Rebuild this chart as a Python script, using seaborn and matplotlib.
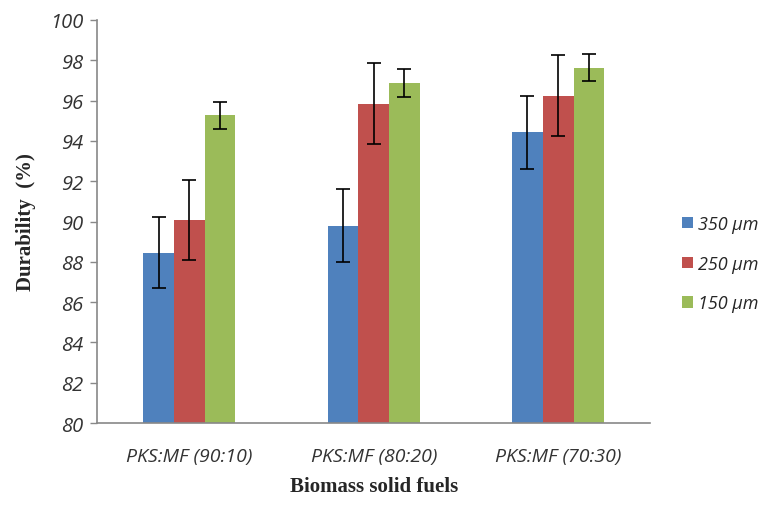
import matplotlib
matplotlib.use("Agg")
import matplotlib.pyplot as plt
import seaborn as sns
import pandas as pd
import numpy as np
from matplotlib.patches import Patch

categories = ["PKS:MF (90:10)", "PKS:MF (80:20)", "PKS:MF (70:30)"]
sizes = ["350 μm", "250 μm", "150 μm"]
vals_350 = [88.45, 89.8, 94.43]
vals_250 = [90.07, 95.85, 96.25]
vals_150 = [95.27, 96.88, 97.62]
err_350 = [1.77, 1.8, 1.82]
err_250 = [1.97, 2.0, 2.0]
err_150 = [0.68, 0.7, 0.67]
yticks = [80, 82, 84, 86, 88, 90, 92, 94, 96, 98, 100]

colors = ["#4F81BD", "#C0504D", "#9BBB59"]

rows = []
for s, vals, errs in zip(sizes, [vals_350, vals_250, vals_150], [err_350, err_250, err_150]):
    for c, v, e in zip(categories, vals, errs):
        rows.append({"Fuel": c, "Size": s, "Durability": v, "Err": e})
df = pd.DataFrame(rows)

sns.set_theme(style="white")
fig = plt.figure(figsize=(7.73, 5.06), dpi=100)
ax = fig.add_axes([0.1255, 0.162, 0.716, 0.7965])

sns.barplot(data=df, x="Fuel", y="Durability", hue="Size", order=categories,
            hue_order=sizes, palette=colors, width=0.5, ax=ax, saturation=1,
            errorbar=None, legend=False, linewidth=0)

for cont, s in zip(ax.containers, sizes):
    sub = df[df["Size"] == s].set_index("Fuel").loc[categories]
    xs = [b.get_x() + b.get_width() / 2 for b in cont]
    ax.errorbar(xs, sub["Durability"].values, yerr=sub["Err"].values, fmt="none",
                ecolor="black", elinewidth=1.2, capsize=5, capthick=1.2, zorder=5)

ax.set_ylim(80, 100)
ax.set_xlim(-0.5, 2.5)
ax.set_yticks(yticks)
tick_font = dict(family="Open Sans", style="italic", size=14.5)
ax.set_yticklabels([str(t) for t in yticks], fontdict=tick_font, color="#333333")
ax.set_xticks(range(len(categories)))
ax.set_xticklabels(categories, fontdict=dict(tick_font, size=14), color="#333333")
ax.tick_params(axis="y", which="major", left=True, length=5, width=1, color="#888888", pad=5)
ax.tick_params(axis="x", bottom=False, pad=11)

for side in ["top", "right"]:
    ax.spines[side].set_visible(False)
for side in ["left", "bottom"]:
    ax.spines[side].set_color("#888888")
    ax.spines[side].set_linewidth(1.2)

ax.set_xlabel("Biomass solid fuels", family="Liberation Serif", weight="bold", size=15, labelpad=8)
ax.set_ylabel("Durability  (%)", family="Liberation Serif", weight="bold", size=15, labelpad=10)

handles = [Patch(facecolor=c, edgecolor="none") for c in colors]
fig.legend(handles, sizes, loc="center left", bbox_to_anchor=(0.882, 0.477), frameon=False,
           prop=dict(family="Open Sans", style="italic", size=13), handlelength=0.6,
           handleheight=0.6, handletextpad=0.3, labelspacing=1.2,
           borderaxespad=0, borderpad=0)

fig.savefig("out.png", dpi=100)
